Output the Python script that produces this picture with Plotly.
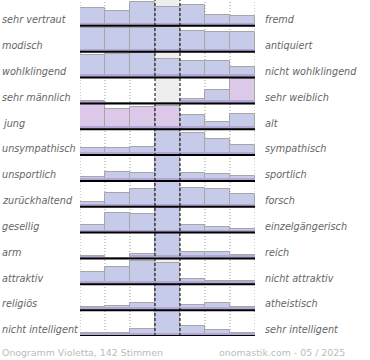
import plotly.graph_objects as go

left_labels = ["sehr vertraut", "modisch", "wohlklingend", "sehr männlich", "jung",
               "unsympathisch", "unsportlich", "zurückhaltend", "gesellig", "arm",
               "attraktiv", "religiös", "nicht intelligent"]
right_labels = ["fremd", "antiquiert", "nicht wohlklingend", "sehr weiblich", "alt",
                "sympathisch", "sportlich", "forsch", "einzelgängerisch", "reich",
                "nicht attraktiv", "atheistisch", "sehr intelligent"]

# bar heights per row, in percent of the row height (7 scale steps)
row1 = [70, 56, 94, 72, 80, 41, 37]
row2 = [92, 92, 92, 94, 81, 77, 77]
row3 = [89, 91, 94, 72, 64, 64, 40]
row4 = [10, 0, 0, 0, 18, 50, 94]
row5 = [97, 77, 86, 91, 56, 27, 59]
row6 = [28, 28, 32, 98, 84, 61, 38]
row7 = [17, 36, 30, 98, 30, 26, 18]
row8 = [19, 53, 67, 98, 72, 68, 48]
row9 = [30, 75, 71, 98, 30, 21, 13]
row10 = [9, 0, 17, 98, 26, 26, 12]
row11 = [49, 66, 92, 84, 19, 13, 13]
row12 = [12, 15, 27, 98, 19, 27, 14]
row13 = [10, 10, 27, 98, 38, 23, 10]
rows = [row1, row2, row3, row4, row5, row6, row7, row8, row9, row10, row11, row12, row13]

footer_left = "Onogramm Violetta, 142 Stimmen"
footer_right = "onomastik.com - 05 / 2025"

pink_bars = {(3, 6), (4, 0), (4, 1), (4, 2), (4, 3)}

BLUE = "#c5cbe8"
PINK = "#dcc8e8"
BAND = "#b3a8d4"
n = len(rows)
steps = list(range(7))
PW = 175.0  # plot width in px
PH = 336.0

fig = go.Figure()
shapes = []
shapes.append(dict(type="rect", xref="x", yref="y", x0=2.5, x1=3.5, y0=0, y1=n,
                   fillcolor="#eeeeee", line=dict(width=0), layer="below"))
for xv in [-0.5, 0.5, 1.5, 4.5, 5.5, 6.5]:
    shapes.append(dict(type="line", xref="x", yref="y", x0=xv, x1=xv, y0=0, y1=n,
                       line=dict(color="#999999", width=1, dash="1px,2px"), layer="below"))

annotations = []
for r, vals in enumerate(rows):
    base = n - 1 - r
    colors = [PINK if (r, c) in pink_bars else BLUE for c in steps]
    fig.add_trace(go.Bar(x=steps, y=[v / 100 for v in vals], base=[base] * 7,
                         width=1, marker=dict(color=colors, line=dict(color="#a6a6a6", width=1)),
                         hoverinfo="skip", showlegend=False))
    fig.add_trace(go.Bar(x=steps, y=[min(v, 12) / 100 for v in vals], base=[base] * 7,
                         width=0.98, marker=dict(color=BAND, line=dict(width=0)),
                         hoverinfo="skip", showlegend=False))
    shapes.append(dict(type="line", xref="x", yref="y", x0=-0.5, x1=6.52, y0=base, y1=base,
                       line=dict(color="black", width=2)))
    annotations.append(dict(xref="paper", yref="y", x=-80 / PW, y=base + 0.24, xanchor="left",
                            yanchor="middle", showarrow=False, text="<i>%s</i>" % left_labels[r],
                            font=dict(family="DejaVu Sans", size=9.7, color="#666666")))
    annotations.append(dict(xref="paper", yref="y", x=(263 - 80) / PW, y=base + 0.24, xanchor="left",
                            yanchor="middle", showarrow=False, text="<i>%s</i>" % right_labels[r],
                            font=dict(family="DejaVu Sans", size=9.7, color="#666666")))

for xv in [2.5, 3.5]:
    shapes.append(dict(type="line", xref="x", yref="y", x0=xv, x1=xv, y0=0, y1=n,
                       line=dict(color="black", width=1, dash="3px,2px")))

annotations.append(dict(xref="paper", yref="paper", x=-80 / PW, y=-16 / PH, xanchor="left",
                        yanchor="middle", showarrow=False, text=footer_left,
                        font=dict(family="DejaVu Sans", size=9.4, color="#bbbbbb")))
annotations.append(dict(xref="paper", yref="paper", x=(347 - 80) / PW, y=-16 / PH, xanchor="right",
                        yanchor="middle", showarrow=False, text=footer_right,
                        font=dict(family="DejaVu Sans", size=9.4, color="#bbbbbb")))

fig.update_layout(
    width=370, height=360,
    margin=dict(l=80, r=115, t=0, b=24),
    plot_bgcolor="white", paper_bgcolor="white",
    barmode="overlay", bargap=0,
    xaxis=dict(range=[-0.5, 6.5], visible=False, fixedrange=True),
    yaxis=dict(range=[0, n], visible=False, fixedrange=True),
    shapes=shapes, annotations=annotations,
)
fig.write_html("out.html", config={"displayModeBar": False},
               post_script="document.body.style.margin='0';document.body.style.overflow='hidden';")
